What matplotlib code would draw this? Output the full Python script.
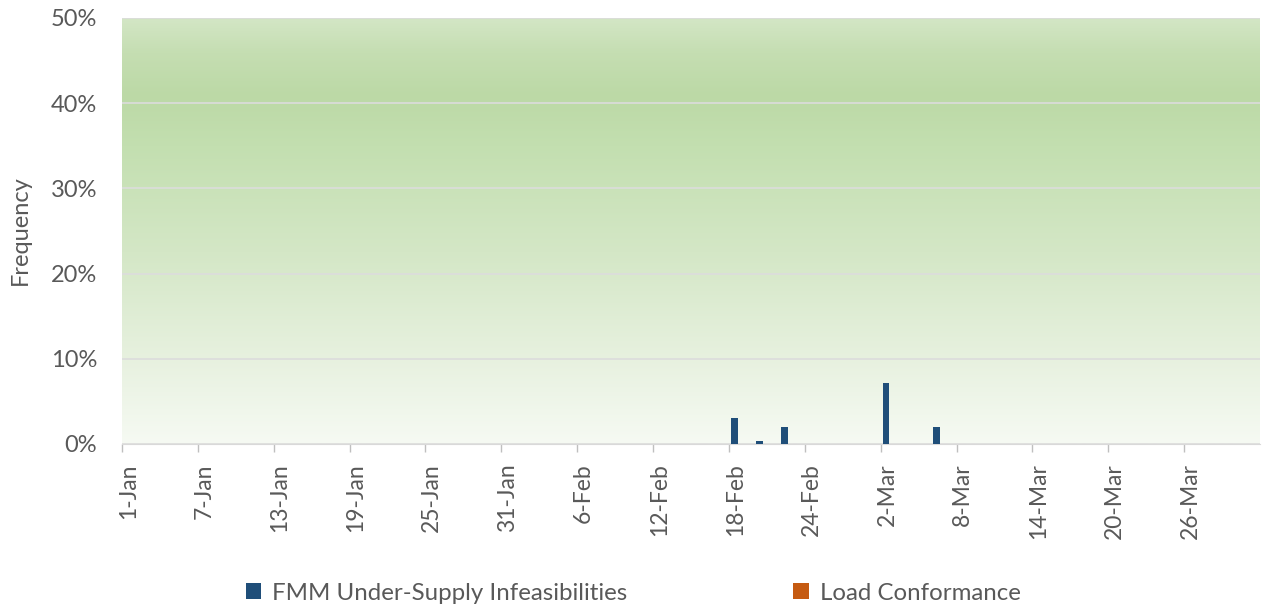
import datetime as dt
import numpy as np
import matplotlib
matplotlib.use("Agg")
import matplotlib.pyplot as plt
from matplotlib.colors import LinearSegmentedColormap
from matplotlib.patches import Patch

# Daily categories, 1 Jan - 31 Mar
start = dt.date(2019, 1, 1)
dates = [start + dt.timedelta(days=i) for i in range(90)]
date_labels = [f"{d.day}-{d.strftime('%b')}" for d in dates]

# Frequency of events per day (percent); days not listed are zero
fmm_days = ["18-Feb", "20-Feb", "22-Feb", "2-Mar", "6-Mar"]
fmm_pct = [3.0, 0.3, 2.0, 7.2, 2.0]
load_conf_days = []
load_conf_pct = []

series_names = ["FMM Under-Supply Infeasibilities", "Load Conformance"]
y_ticks = [0, 10, 20, 30, 40, 50]

fmm = np.zeros(len(dates))
for d, v in zip(fmm_days, fmm_pct):
    fmm[date_labels.index(d)] = v
load_conf = np.zeros(len(dates))
for d, v in zip(load_conf_days, load_conf_pct):
    load_conf[date_labels.index(d)] = v

plt.rcParams["font.family"] = ["Lato", "DejaVu Sans"]
text_color = "#595959"

fig = plt.figure(figsize=(12.62, 6.09), dpi=100)
ax = fig.add_axes([122 / 1262, 1 - 444 / 609, (1260 - 122) / 1262, (444 - 18) / 609])

# Green vertical gradient background of the plot area
grad = LinearSegmentedColormap.from_list(
    "bg",
    [(0.0, "#f6faf3"), (0.2, "#e7f1df"), (0.45, "#d4e7c6"),
     (0.7, "#c3dfb0"), (0.82, "#bcd9a6"), (0.92, "#c5deb2"), (1.0, "#d3e6c5")],
)
ax.imshow(np.linspace(0, 1, 256).reshape(-1, 1), cmap=grad, origin="lower",
          extent=[0, 1, 0, 1], transform=ax.transAxes, aspect="auto", zorder=0)

x = np.arange(len(dates))
w = 0.55
ax.bar(x - 0.08, fmm, width=w, color="#1f4e79", zorder=3)
ax.bar(x + 0.4, load_conf, width=0.2, color="#c55a11", zorder=3)

ax.set_xlim(-0.5, len(dates) - 0.5)
ax.set_ylim(0, 50)
ax.set_yticks(y_ticks)
ax.set_yticklabels([f"{t}%" for t in y_ticks], fontsize=17, color=text_color)
ax.yaxis.grid(True, color="#dcdcdc", linewidth=1.2, zorder=1)
ax.tick_params(axis="y", length=0, pad=18)

# Ticks sit between categories; labels sit on the category every 6 days
ax.set_xticks(np.arange(0, len(dates), 6) - 0.5, minor=False)
ax.set_xticklabels([])
ax.set_xticks(np.arange(0, len(dates), 6), minor=True)
ax.set_xticklabels([date_labels[i] for i in range(0, len(dates), 6)],
                   minor=True, rotation=90, fontsize=16.5, color=text_color)
ax.tick_params(axis="x", which="major", length=6, color="#bfbfbf", width=1)
ax.tick_params(axis="x", which="minor", length=0, pad=14)

for side in ["left", "top", "right"]:
    ax.spines[side].set_visible(False)
ax.spines["bottom"].set_color("#d9d9d9")

fig.text(20 / 1262, 1 - 230 / 609, "Frequency", rotation=90, ha="center",
         va="center", fontsize=17, color=text_color)

handles = [Patch(facecolor="#1f4e79"), Patch(facecolor="#c55a11")]
fig.legend(handles, series_names, ncol=2, loc="center",
           bbox_to_anchor=(633 / 1262, 1 - 593 / 609), frameon=False,
           fontsize=17.3, labelcolor=text_color, handlelength=0.65,
           handleheight=0.65, handletextpad=0.45, columnspacing=6.9)

fig.savefig("out.png", dpi=100)
